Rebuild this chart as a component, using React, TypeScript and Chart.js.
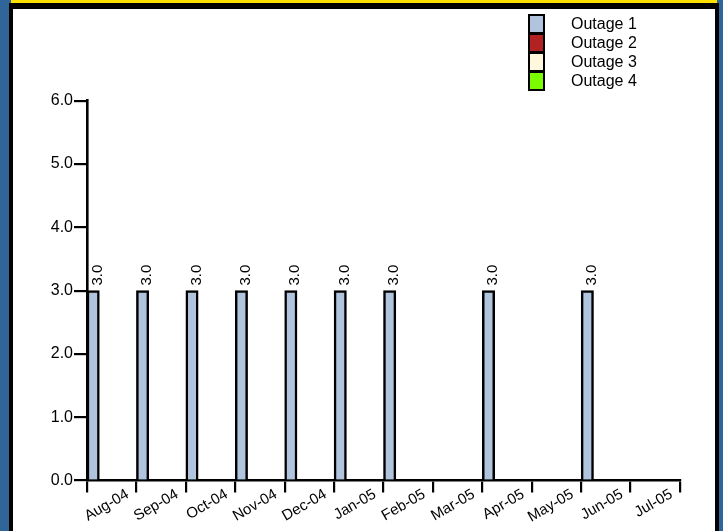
import React, { useEffect, useRef } from "react";
import { Chart, registerables } from "chart.js";

Chart.register(...registerables);

const categories = ["Aug-04", "Sep-04", "Oct-04", "Nov-04", "Dec-04", "Jan-05", "Feb-05", "Mar-05", "Apr-05", "May-05", "Jun-05", "Jul-05"];
const outage1 = [3, 3, 3, 3, 3, 3, 3, null, 3, null, 3, null];
const outage2 = [null, null, null, null, null, null, null, null, null, null, null, null];
const outage3 = [null, null, null, null, null, null, null, null, null, null, null, null];
const outage4 = [null, null, null, null, null, null, null, null, null, null, null, null];
const seriesNames = ["Outage 1", "Outage 2", "Outage 3", "Outage 4"];
const seriesColors = ["#B0C4DE", "#B22222", "#FFF8DC", "#7CFC00"];
const yTicks = [0, 1, 2, 3, 4, 5, 6];

const FONT = "Arial, 'Liberation Sans', sans-serif";

const valueLabels = {
  id: "valueLabels",
  afterDatasetsDraw(chart: any) {
    const ctx = chart.ctx;
    ctx.save();
    ctx.fillStyle = "#000";
    ctx.font = `15px ${FONT}`;
    ctx.textAlign = "left";
    ctx.textBaseline = "alphabetic";
    chart.data.datasets.forEach((ds: any, di: number) => {
      const meta = chart.getDatasetMeta(di);
      meta.data.forEach((el: any, i: number) => {
        const v = ds.data[i];
        if (v === null || v === undefined) return;
        ctx.save();
        ctx.translate(el.x + 8.5, el.y - 5);
        ctx.rotate(-Math.PI / 2);
        ctx.fillText(Number(v).toFixed(1), 0, 0);
        ctx.restore();
      });
    });
    ctx.restore();
  },
};

export default function App() {
  const ref = useRef<HTMLCanvasElement | null>(null);

  useEffect(() => {
    if (!ref.current) return;
    const data = [outage1, outage2, outage3, outage4];
    const chart = new Chart(ref.current, {
      type: "bar",
      data: {
        labels: categories,
        datasets: seriesNames.map((name, i) => ({
          label: name,
          data: data[i] as any,
          backgroundColor: seriesColors[i],
          borderColor: "#000",
          borderWidth: 2.5,
          categoryPercentage: 1,
          barPercentage: 1,
        })),
      },
      options: {
        responsive: false,
        animation: false,
        devicePixelRatio: 1,
        layout: { padding: { top: 91.7, right: 35, left: 0, bottom: 0 } },
        plugins: { legend: { display: false }, tooltip: { enabled: false } },
        scales: {
          x: {
            offset: true,
            grid: { offset: true, drawOnChartArea: false, tickLength: 12, tickColor: "#000", lineWidth: 2.2 },
            border: { color: "#000", width: 2.6 },
            ticks: {
              autoSkip: false,
              maxRotation: 30,
              minRotation: 30,
              color: "#000",
              font: { family: FONT, size: 15 },
              labelOffset: 16,
              padding: -7,
            },
            afterFit: (s: any) => { s.height = 50.5; },
          },
          y: {
            min: 0,
            max: 6,
            afterBuildTicks: (s: any) => { s.ticks = yTicks.map((v) => ({ value: v })); },
            grid: { drawOnChartArea: false, tickLength: 13, tickColor: "#000", lineWidth: 2.2 },
            border: { color: "#000", width: 2.6 },
            ticks: {
              color: "#000",
              padding: 1,
              font: { family: FONT, size: 16 },
              callback: (v: any) => Number(v).toFixed(1),
            },
            afterFit: (s: any) => { s.width = 74; },
          },
        },
      },
      plugins: [valueLabels],
    });
    return () => chart.destroy();
  }, []);

  return (
    <div style={{ position: "fixed", left: 0, top: 0, width: 723, height: 531, background: "#306599", overflow: "hidden", fontFamily: FONT }}>
      <div style={{ position: "absolute", left: 11, top: 0, width: 706, height: 3, background: "#FFE100" }} />
      <div style={{ position: "absolute", left: 9, top: 3, width: 710, height: 528, background: "#000" }} />
      <div style={{ position: "absolute", left: 13, top: 9, width: 702, height: 522, background: "#fff" }} />
      <canvas ref={ref} width={702} height={522} style={{ position: "absolute", left: 13, top: 9, width: 702, height: 522 }} />
      {seriesNames.map((name, i) => (
        <React.Fragment key={name}>
          <div style={{ position: "absolute", left: 528, top: 14 + i * 19, width: 17, height: 20, boxSizing: "border-box", border: "2px solid #000", background: seriesColors[i] }} />
          <div style={{ position: "absolute", left: 571, top: 14 + i * 19, height: 20, lineHeight: "20px", fontSize: 16, color: "#000", whiteSpace: "nowrap" }}>{name}</div>
        </React.Fragment>
      ))}
    </div>
  );
}
